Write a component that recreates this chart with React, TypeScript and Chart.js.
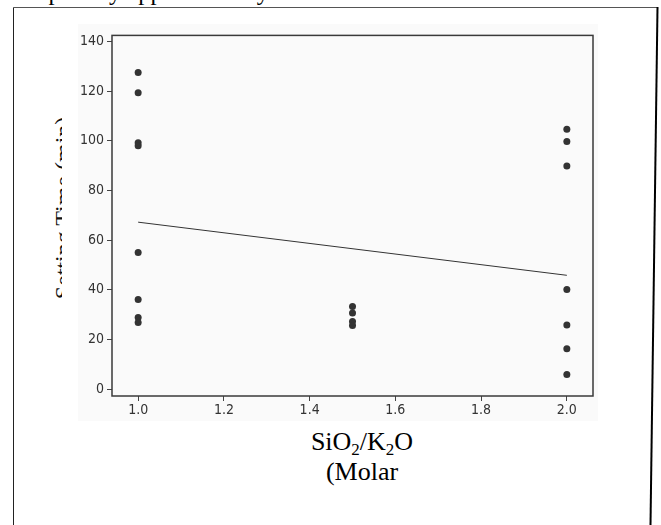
import React, { useEffect, useRef } from "react";
import { Chart, registerables } from "chart.js";
Chart.register(...registerables);

// ---- data ----
const xTicks = [1.0, 1.2, 1.4, 1.6, 1.8, 2.0];
const yTicks = [0, 20, 40, 60, 80, 100, 120, 140];
const ratioLow = 1.0;
const ratioMid = 1.5;
const ratioHigh = 2.0;
const timesAtLow = [127.5, 119.3, 99.2, 98.0, 55.0, 36.1, 28.8, 26.8];
const timesAtMid = [33.2, 30.6, 27.2, 25.6];
const timesAtHigh = [104.6, 99.7, 89.8, 40.1, 25.8, 16.2, 5.9];
const fitX = [1.0, 2.0];
const fitY = [67.2, 45.8];

const xTitleMain = "SiO";
const yTitle = "Setting Time (min)";
const topText = "sampled by approximately 5 min";

const tickFont = { family: "'Liberation Sans Narrow', 'DejaVu Sans Condensed', sans-serif", size: 14 };

const framePlugin = {
  id: "frame",
  afterDatasetsDraw(chart: any) {
    const { ctx, chartArea: a } = chart;
    ctx.save();
    ctx.strokeStyle = "#3a3a3a";
    ctx.lineWidth = 1.5;
    ctx.strokeRect(a.left, a.top, a.right - a.left, a.bottom - a.top);
    ctx.restore();
  },
};

function ChartCanvas() {
  const ref = useRef<HTMLCanvasElement | null>(null);
  useEffect(() => {
    if (!ref.current) return;
    const pts = (x: number, ys: number[]) => ys.map((y) => ({ x, y }));
    const chart = new Chart(ref.current, {
      type: "scatter",
      data: {
        datasets: [
          {
            data: [...pts(ratioLow, timesAtLow), ...pts(ratioMid, timesAtMid), ...pts(ratioHigh, timesAtHigh)],
            backgroundColor: "#333333",
            borderWidth: 0,
            pointRadius: 3.5,
          },
          {
            type: "line",
            data: fitX.map((x, i) => ({ x, y: fitY[i] })),
            borderColor: "#333333",
            borderWidth: 1,
            pointRadius: 0,
            showLine: true,
            fill: false,
          } as any,
        ],
      },
      options: {
        animation: false,
        responsive: false,
        devicePixelRatio: 1,
        layout: { padding: { top: 7, right: 5, bottom: 0, left: 0 } },
        plugins: { legend: { display: false }, tooltip: { enabled: false } },
        scales: {
          x: {
            type: "linear",
            min: 0.939,
            max: 2.061,
            afterBuildTicks: (axis: any) => {
              axis.ticks = xTicks.map((v) => ({ value: v }));
            },
            afterFit: (s: any) => {
              s.height = 25;
            },
            grid: { display: true, drawOnChartArea: false, tickLength: 5, color: "#444" },
            border: { display: false },
            ticks: {
              color: "#333",
              font: tickFont,
              padding: 1,
              maxRotation: 0,
              callback: (v: any) => Number(v).toFixed(1),
            },
          },
          y: {
            type: "linear",
            min: -2.8,
            max: 142.4,
            afterBuildTicks: (axis: any) => {
              axis.ticks = yTicks.map((v) => ({ value: v }));
            },
            afterFit: (s: any) => {
              s.width = 34;
            },
            grid: { display: true, drawOnChartArea: false, tickLength: 5, color: "#444" },
            border: { display: false },
            ticks: {
              color: "#333",
              font: tickFont,
              padding: 3,
              callback: (v: any) => String(Math.round(Number(v))),
            },
          },
        },
      },
      plugins: [framePlugin],
    });
    return () => chart.destroy();
  }, []);
  return (
    <canvas
      ref={ref}
      width={520}
      height={397}
      style={{ position: "absolute", left: 78, top: 24, width: 520, height: 397, background: "#fafafa" }}
    />
  );
}

export default function App() {
  const serif = "'Liberation Serif', 'Times New Roman', serif";
  return (
    <div style={{ position: "fixed", left: 0, top: 0, width: 661, height: 525, overflow: "hidden", background: "#fff" }}>
      {/* cut-off line of document text */}
      <div
        style={{
          position: "absolute",
          left: 9,
          top: -22.8,
          whiteSpace: "nowrap",
          fontFamily: serif,
          fontSize: 24.5,
          lineHeight: "30px",
          color: "#000",
        }}
      >
        {topText}
      </div>
      {/* outer frame */}
      <svg width={661} height={525} style={{ position: "absolute", left: 0, top: 0 }}>
        <line x1={13.5} y1={7.5} x2={657.5} y2={7.5} stroke="#555" strokeWidth={1} />
        <line x1={13.5} y1={7.5} x2={13.5} y2={525} stroke="#222" strokeWidth={1} />
        <line x1={657.5} y1={7} x2={650.5} y2={525} stroke="#000" strokeWidth={2} />
      </svg>
      {/* clipped y title */}
      <div style={{ position: "absolute", left: 30, top: 90, width: 32, height: 240, overflow: "hidden" }}>
        <div
          style={{
            position: "absolute",
            left: -87,
            top: 103,
            width: 240,
            height: 30,
            lineHeight: "30px",
            textAlign: "center",
            whiteSpace: "nowrap",
            fontFamily: serif,
            fontSize: 24,
            color: "#111",
            transform: "rotate(-90deg)",
          }}
        >
          {yTitle}
        </div>
      </div>
      <ChartCanvas />
      {/* x title */}
      <div
        style={{
          position: "absolute",
          left: 212,
          top: 427,
          width: 300,
          textAlign: "center",
          fontFamily: serif,
          fontSize: 26,
          lineHeight: "30px",
          color: "#000",
        }}
      >
        <div>
          {xTitleMain}
          <span style={{ fontSize: 17, verticalAlign: -5, lineHeight: 0 }}>2</span>/K
          <span style={{ fontSize: 17, verticalAlign: -5, lineHeight: 0 }}>2</span>O
        </div>
        <div>(Molar</div>
      </div>
    </div>
  );
}
